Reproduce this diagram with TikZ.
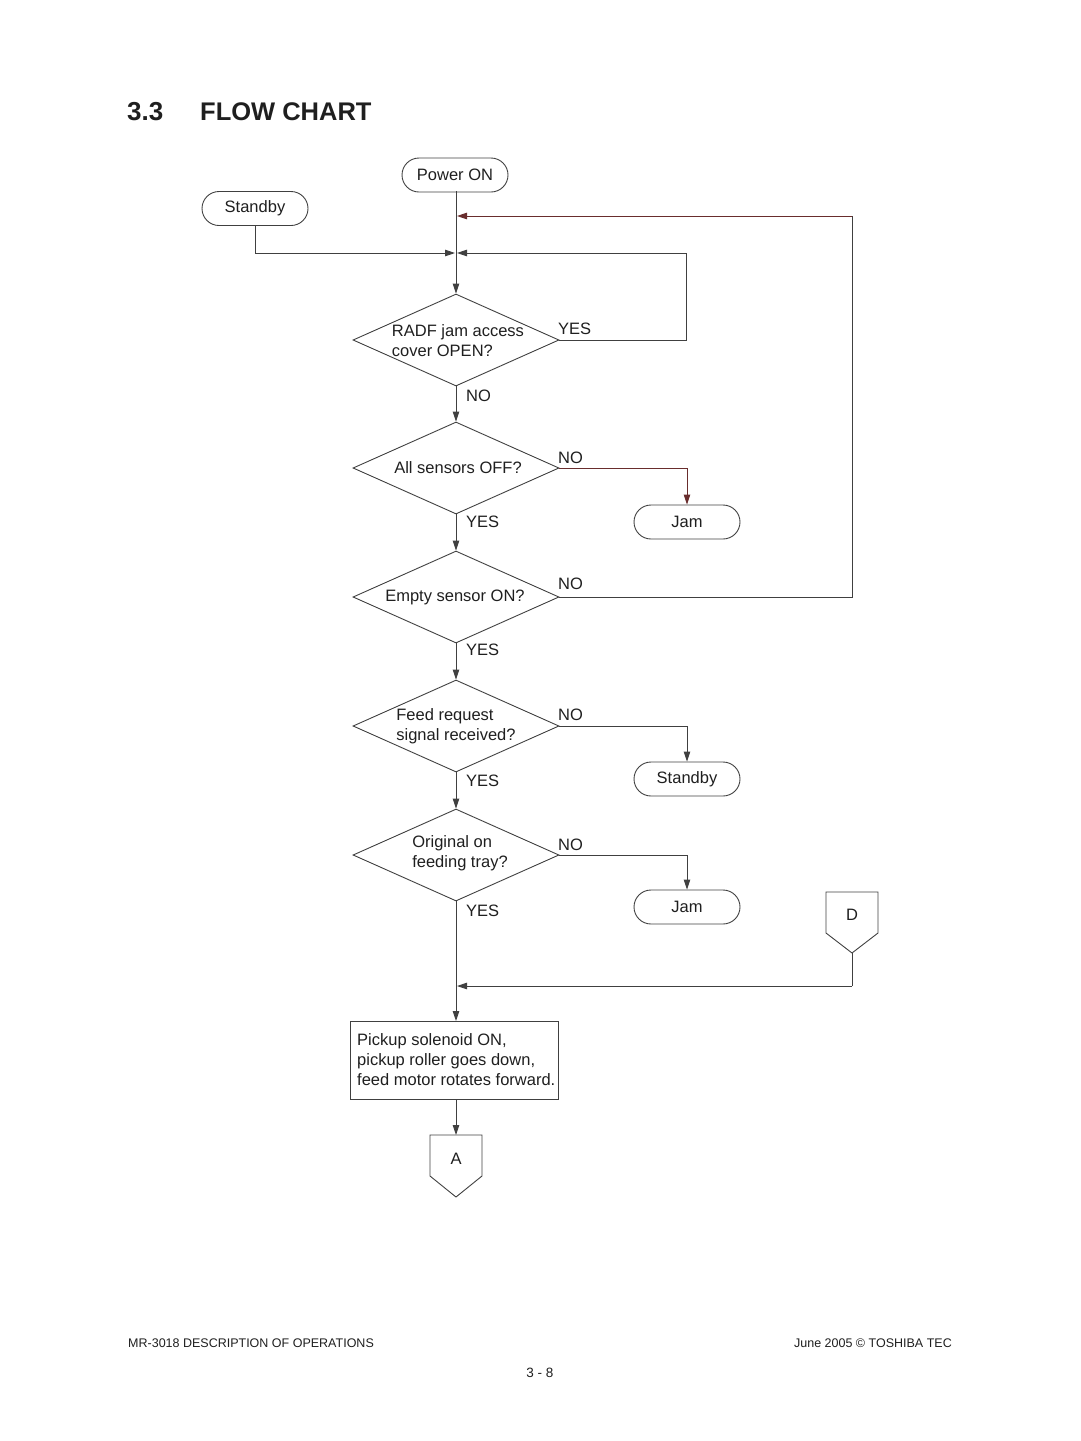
\documentclass[tikz,border=0pt]{standalone}
\usepackage{fontspec}
\setmainfont{Liberation Sans}
\usetikzlibrary{arrows.meta,shapes.geometric,shapes.misc}
\begin{document}
\begin{tikzpicture}[x=1pt,y=-1pt,
  every node/.style={text=black!88},
  ln/.style={draw=black!75,line width=0.9pt},
  arr/.style={ln,-{Triangle[length=10pt,width=6.5pt]}},
  brn/.style={draw={rgb,255:red,105;green,45;blue,45},line width=0.9pt,-{Triangle[length=10pt,width=6.5pt]}},
  term/.style={rounded rectangle,draw=black!75,line width=0.9pt,minimum width=106pt,minimum height=34pt,inner sep=0pt,font=\fontsize{16.5}{20}\selectfont},
  dec/.style={diamond,draw=black!75,line width=0.9pt,minimum width=206pt,minimum height=92pt,inner sep=0pt},
  dtext/.style={font=\fontsize{16.5}{20}\selectfont,align=left,inner sep=0pt},
  lbl/.style={font=\fontsize{16.5}{20}\selectfont,inner sep=0pt,anchor=west},
  conn/.style={draw=black!75,line width=0.9pt},
]
\useasboundingbox (0,0) rectangle (1080,1441);

% title
\node[anchor=west,inner sep=0pt,font=\fontsize{26}{30}\selectfont\bfseries] (tnum) at (127,112) {3.3};
\node[anchor=west,inner sep=0pt,font=\fontsize{25.5}{30}\selectfont\bfseries] (ttl) at (200,112) {FLOW CHART};

% terminals
\node[term] (pwr) at (455,175) {Power ON};
\node[term] (sb1) at (255,208.5) {Standby};
\node[term] (jam1) at (687,522) {Jam};
\node[term] (sb2) at (687,779) {Standby};
\node[term] (jam2) at (687,907) {Jam};

% decisions
\node[dec] (d1) at (456,340) {};
\node[dtext] (d1t) at (458,341) {RADF jam access\\cover OPEN?};
\node[dec] (d2) at (456,468) {};
\node[dtext] (d2t) at (458,468) {All sensors OFF?};
\node[dec] (d3) at (456,597) {};
\node[dtext] (d3t) at (455,597) {Empty sensor ON?};
\node[dec] (d4) at (456,726) {};
\node[dtext] (d4t) at (456,726) {Feed request\\signal received?};
\node[dec] (d5) at (456,855) {};
\node[dtext] (d5t) at (460,853) {Original on\\feeding tray?};

% process box
\node[draw=black!75,line width=0.9pt,minimum width=208pt,minimum height=78pt,inner sep=0pt] (box) at (454,1060) {};
\node[anchor=west,inner sep=0pt,align=left,font=\fontsize{16.5}{20}\selectfont] (boxt) at (357,1060) {Pickup solenoid ON,\\pickup roller goes down,\\feed motor rotates forward.};

% off-page connectors
\draw[conn] (826,892) -- (878,892) -- (878,933) -- (852,953) -- (826,933) -- cycle;
\node[font=\fontsize{16.5}{20}\selectfont,inner sep=0pt] (dcon) at (852,915) {D};
\coordinate (dbot) at (852,953);
\draw[conn] (430,1135) -- (482,1135) -- (482,1176) -- (456,1197) -- (430,1176) -- cycle;
\node[font=\fontsize{16.5}{20}\selectfont,inner sep=0pt] (acon) at (456,1159) {A};
\coordinate (atop) at (456,1135);

% helper coordinates
\coordinate (pwrb) at (456,191);
\coordinate (fbL) at (456,216);
\coordinate (fbR) at (852,216);
\coordinate (fbD) at (852,597);
\coordinate (jn) at (456,253);
\coordinate (sbc) at (255,253);
\coordinate (lpT) at (686,253);
\coordinate (lpB) at (686,340);
\coordinate (dj) at (456,986);
\coordinate (djR) at (852,986);
\coordinate (boxT) at (456,1021);
\coordinate (boxB) at (456,1099);

% main flow
\draw[arr] (pwrb) -- (d1.north);
\draw[arr] (sb1.south) -- (sbc) -- ([xshift=-1pt]jn);
\draw[ln] (d1.east) -- (lpB) -- (lpT);
\draw[arr] (lpT) -- ([xshift=1pt]jn);
\draw[ln] (d3.east) -- (fbD) -- (fbR);
\draw[brn] (fbR) -- ([xshift=1pt]fbL);

\draw[arr] (d1.south) -- (d2.north);
\draw[arr] (d2.south) -- (d3.north);
\draw[arr] (d3.south) -- (d4.north);
\draw[arr] (d4.south) -- (d5.north);
\draw[arr] (d5.south) -- (boxT);
\draw[arr] (boxB) -- (atop);

\draw[brn] (d2.east) -| (jam1.north);
\draw[arr] (d4.east) -| (sb2.north);
\draw[arr] (d5.east) -| (jam2.north);
\draw[ln] (dbot) -- (djR);
\draw[arr] (djR) -- ([xshift=1pt]dj);

% labels
\node[lbl] (l1) at (558,329) {YES};
\node[lbl] (l2) at (466,396) {NO};
\node[lbl] (l3) at (558,458) {NO};
\node[lbl] (l4) at (466,522) {YES};
\node[lbl] (l5) at (558,584) {NO};
\node[lbl] (l6) at (466,650) {YES};
\node[lbl] (l7) at (558,715) {NO};
\node[lbl] (l8) at (466,781) {YES};
\node[lbl] (l9) at (558,845) {NO};
\node[lbl] (l10) at (466,911) {YES};

% footer
\node[anchor=west,inner sep=0pt,font=\fontsize{12.5}{15}\selectfont] (fl) at (128,1343) {MR-3018 DESCRIPTION OF OPERATIONS};
\node[anchor=east,inner sep=0pt,font=\fontsize{12.5}{15}\selectfont] (fr) at (952,1343) {June 2005 © TOSHIBA TEC};
\node[inner sep=0pt,font=\fontsize{13.5}{15}\selectfont] (pg) at (540,1373) {3 - 8};
\end{tikzpicture}
\end{document}
